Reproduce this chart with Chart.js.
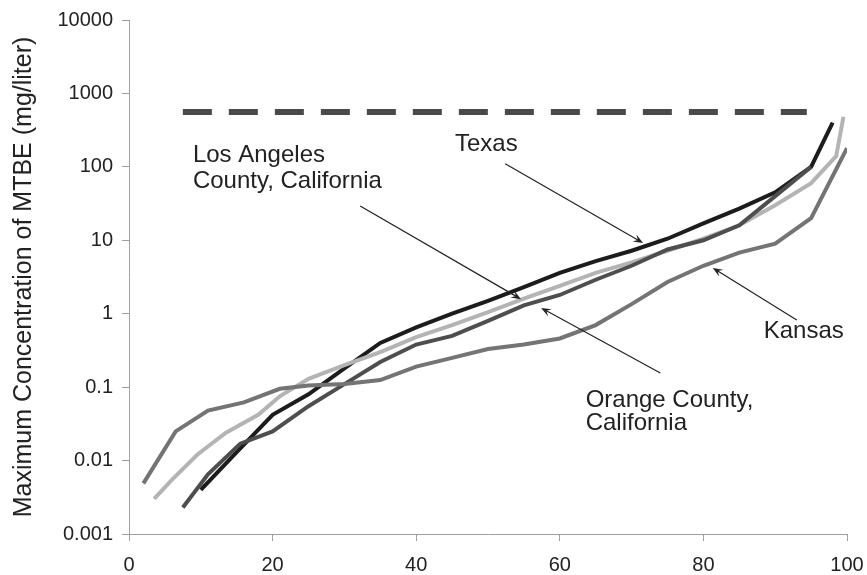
<!DOCTYPE html>
<html>
<head>
<meta charset="utf-8">
<script src="https://cdn.jsdelivr.net/npm/chart.js@4.4.0/dist/chart.umd.min.js"></script>
<style>
  html, body { margin: 0; padding: 0; background: #fff; }
  #wrap { width: 867px; height: 575px; }
</style>
</head>
<body>
<div id="wrap"><canvas id="c"></canvas></div>
<script>
// percentile (x) vs maximum MTBE concentration in mg/liter (y)
const texasPct  = [10, 15, 20, 25, 30, 35, 40, 45, 50, 55, 60, 65, 70, 75, 80, 85, 90, 95, 98];
const texasConc = [0.004, 0.013, 0.042, 0.08, 0.18, 0.4, 0.65, 1.0, 1.5, 2.3, 3.6, 5.2, 7.2, 10.5, 17, 27, 45, 100, 400];

const laPct  = [3.5, 6, 9.5, 13.5, 18, 21, 25, 30, 35, 40, 45, 50, 55, 60, 65, 70, 75, 80, 85, 90, 95, 98.5, 99.5];
const laConc = [0.003, 0.0055, 0.012, 0.024, 0.042, 0.075, 0.13, 0.2, 0.3, 0.48, 0.7, 1.05, 1.6, 2.4, 3.6, 5, 7.2, 10.5, 16, 30, 60, 140, 480];

const orangePct  = [7.5, 11, 15.5, 20, 25, 30, 35, 40, 45, 50, 55, 60, 65, 70, 75, 80, 85, 90, 95];
const orangeConc = [0.0023, 0.0065, 0.017, 0.025, 0.055, 0.11, 0.22, 0.38, 0.5, 0.8, 1.3, 1.8, 2.9, 4.5, 7.5, 10, 16, 40, 100];

const kansasPct  = [2, 6.5, 11, 16, 21, 25, 30, 35, 40, 45, 50, 55, 60, 65, 70, 75, 80, 85, 90, 95, 100];
const kansasConc = [0.0049, 0.025, 0.048, 0.062, 0.095, 0.105, 0.11, 0.125, 0.19, 0.25, 0.33, 0.38, 0.46, 0.7, 1.35, 2.7, 4.5, 6.8, 9, 20, 180];

const limitPct  = [7.5, 94.4];
const limitConc = [560, 560];

const yTicks = [0.001, 0.01, 0.1, 1, 10, 100, 1000, 10000];
const yTickLabels = ['0.001', '0.01', '0.1', '1', '10', '100', '1000', '10000'];

// annotations, in data coordinates
const noteText = [['Los Angeles', 'County, California'], ['Texas'], ['Kansas'], ['Orange County,', 'California']];
const noteX = [8.9, 45.4, 88.4, 63.6];
const noteY = [[145, 64], [205], [0.58], [0.067, 0.032]];
const arrowFrom = [[32.2, 29.3], [52.4, 110], [93, 0.82], [74, 0.156]];
const arrowTo   = [[54.6, 1.58], [71.6, 9.2], [81.3, 4.2], [57.4, 1.2]];

const pts = (xs, ys) => xs.map((x, i) => ({ x: x, y: ys[i] }));

const series = (data, color) => ({
  data: data,
  borderColor: color,
  borderWidth: 4,
  pointRadius: 0,
  tension: 0,
  fill: false
});

const notesPlugin = {
  id: 'notes',
  afterDatasetsDraw(chart) {
    const { ctx, scales: { x, y } } = chart;
    ctx.save();
    ctx.strokeStyle = '#222';
    ctx.fillStyle = '#222';
    ctx.lineWidth = 1.2;
    arrowFrom.forEach((from, i) => {
      const x1 = x.getPixelForValue(from[0]), y1 = y.getPixelForValue(from[1]);
      const x2 = x.getPixelForValue(arrowTo[i][0]), y2 = y.getPixelForValue(arrowTo[i][1]);
      const a = Math.atan2(y2 - y1, x2 - x1);
      ctx.beginPath();
      ctx.moveTo(x1, y1);
      ctx.lineTo(x2 - 5 * Math.cos(a), y2 - 5 * Math.sin(a));
      ctx.stroke();
      ctx.beginPath();
      ctx.moveTo(x2, y2);
      ctx.lineTo(x2 - 10 * Math.cos(a) + 4 * Math.sin(a), y2 - 10 * Math.sin(a) - 4 * Math.cos(a));
      ctx.lineTo(x2 - 6 * Math.cos(a), y2 - 6 * Math.sin(a));
      ctx.lineTo(x2 - 10 * Math.cos(a) - 4 * Math.sin(a), y2 - 10 * Math.sin(a) + 4 * Math.cos(a));
      ctx.closePath();
      ctx.fill();
    });
    ctx.font = '24px "Liberation Sans", Arial, sans-serif';
    ctx.textAlign = 'left';
    ctx.textBaseline = 'middle';
    noteText.forEach((lines, i) => {
      lines.forEach((t, j) => {
        ctx.fillText(t, x.getPixelForValue(noteX[i]), y.getPixelForValue(noteY[i][j]));
      });
    });
    ctx.restore();
  }
};

Chart.defaults.font.family = '"Liberation Sans", Arial, sans-serif';
Chart.defaults.color = '#222';

new Chart(document.getElementById('c'), {
  type: 'line',
  data: {
    datasets: [
      Object.assign(series(pts(limitPct, limitConc), '#4a4a4a'), { borderWidth: 6, borderDash: [29, 17], borderCapStyle: 'butt' }),
      series(pts(kansasPct, kansasConc), '#747474'),
      series(pts(orangePct, orangeConc), '#4e4e4e'),
      series(pts(laPct, laConc), '#b4b4b4'),
      series(pts(texasPct, texasConc), '#1c1c1c')
    ]
  },
  options: {
    responsive: true,
    maintainAspectRatio: false,
    animation: false,
    events: [],
    layout: { padding: { top: 20, right: 20, left: 0, bottom: 0 } },
    plugins: { legend: { display: false }, tooltip: { enabled: false } },
    scales: {
      x: {
        type: 'linear',
        min: 0,
        max: 100,
        ticks: { stepSize: 20, font: { size: 20 }, padding: 12, maxRotation: 0 },
        grid: { drawOnChartArea: false, drawTicks: true, tickLength: 7, color: '#a0a0a0' },
        border: { display: true, color: '#a0a0a0' },
        afterFit(scale) {
          scale.height = 41;
          scale.paddingLeft = 0;
          scale.paddingRight = 0;
        }
      },
      y: {
        type: 'logarithmic',
        min: 0.001,
        max: 10000,
        afterBuildTicks(scale) { scale.ticks = yTicks.map(v => ({ value: v })); },
        ticks: {
          font: { size: 20 },
          padding: 9,
          callback: (v) => yTickLabels[yTicks.indexOf(v)]
        },
        grid: { drawOnChartArea: false, drawTicks: true, tickLength: 7, color: '#a0a0a0' },
        border: { display: true, color: '#a0a0a0' },
        title: {
          display: true,
          text: 'Maximum Concentration of MTBE (mg/liter)',
          font: { size: 25, lineHeight: 1.2 },
          padding: { top: 9, bottom: 0 },
          color: '#222'
        },
        afterFit(scale) {
          scale.width = 129;
          scale.paddingTop = 0;
          scale.paddingBottom = 0;
        }
      }
    }
  },
  plugins: [notesPlugin]
});
</script>
</body>
</html>
